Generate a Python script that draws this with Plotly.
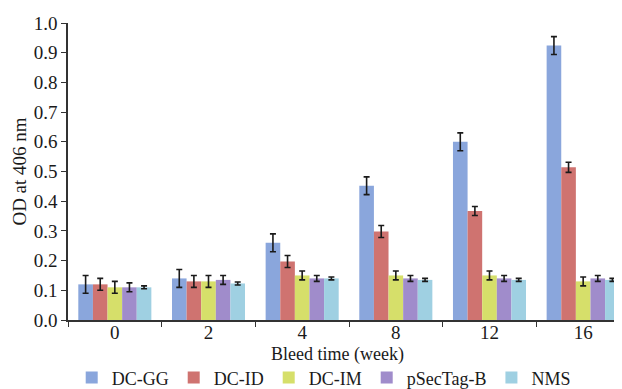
import plotly.graph_objects as go

weeks = ["0", "2", "4", "8", "12", "16"]
series_names = ["DC-GG", "DC-ID", "DC-IM", "pSecTag-B", "NMS"]
dc_gg = [0.12, 0.14, 0.26, 0.452, 0.60, 0.924]
dc_gg_err = [0.03, 0.03, 0.03, 0.03, 0.03, 0.03]
dc_id = [0.12, 0.13, 0.197, 0.298, 0.367, 0.514]
dc_id_err = [0.02, 0.02, 0.02, 0.02, 0.015, 0.017]
dc_im = [0.11, 0.13, 0.15, 0.15, 0.15, 0.13]
dc_im_err = [0.02, 0.02, 0.015, 0.015, 0.015, 0.015]
psectag = [0.11, 0.135, 0.14, 0.14, 0.14, 0.14]
psectag_err = [0.015, 0.015, 0.01, 0.01, 0.01, 0.01]
nms = [0.11, 0.123, 0.14, 0.135, 0.135, 0.135]
nms_err = [0.005, 0.005, 0.005, 0.005, 0.005, 0.005]
x_title = "Bleed time (week)"
y_title = "OD at 406 nm"

values = [dc_gg, dc_id, dc_im, psectag, nms]
errors = [dc_gg_err, dc_id_err, dc_im_err, psectag_err, nms_err]
colors = ["#8aa6dc", "#cf7370", "#d6df6a", "#a08ccb", "#9fd0e2"]

fig = go.Figure()
for name, v, e, c in zip(series_names, values, errors, colors):
    fig.add_trace(go.Bar(
        x=weeks, y=v, name=name,
        marker=dict(color=c, line=dict(width=0)),
        error_y=dict(type="data", array=e, color="#1a1a1a", thickness=1.6, width=3),
    ))

font_family = "Liberation Serif, Times New Roman, serif"
fig.update_layout(
    width=622, height=389,
    margin=dict(l=60, r=0, t=15, b=69),
    paper_bgcolor="white", plot_bgcolor="white",
    barmode="group", bargap=0.22, bargroupgap=0.0,
    font=dict(family=font_family, size=19, color="#1a1a1a"),
    showlegend=True,
    legend=dict(orientation="h", x=0.455, xanchor="center", y=-0.195, yanchor="middle",
                font=dict(size=18), itemwidth=30, tracegroupgap=0,
                bgcolor="rgba(0,0,0,0)"),
    xaxis=dict(
        type="category", showgrid=False, showline=True, linecolor="#333", linewidth=1.5,
        ticks="outside", tickson="boundaries", ticklen=5, tickcolor="#333",
        tickfont=dict(size=19), automargin=False, ticklabelstandoff=-6,
    ),
    yaxis=dict(
        range=[0, 1.0], dtick=0.1, tickformat=".1f", showgrid=False, zeroline=False,
        showline=True, linecolor="#333", linewidth=1.5, automargin=False,
        ticks="outside", ticklen=5, tickcolor="#333", tickfont=dict(size=19),
        title=dict(text=y_title, font=dict(size=19), standoff=2),
    ),
    annotations=[dict(text=x_title, xref="paper", yref="paper", x=0.48, y=-0.115,
                      xanchor="center", yanchor="middle", showarrow=False,
                      font=dict(size=18))],
)

fig.write_html("out.html")
